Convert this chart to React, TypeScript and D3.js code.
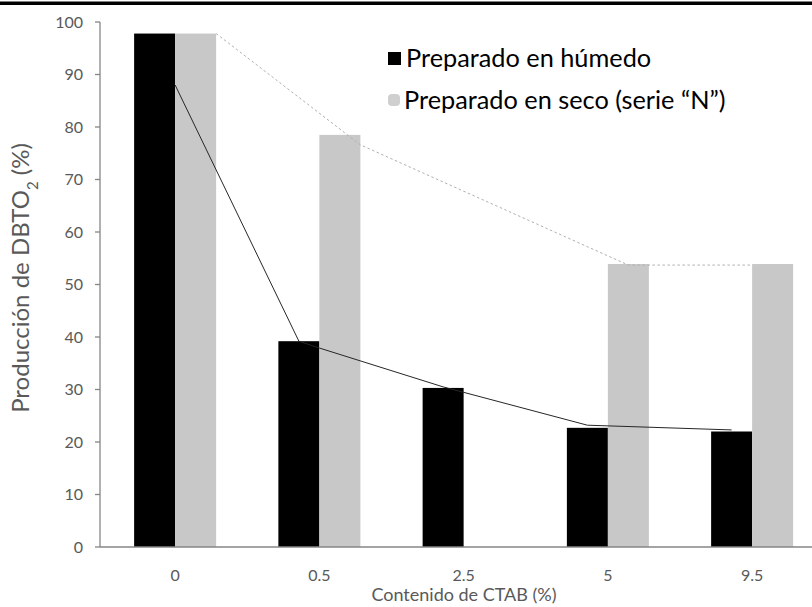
import React from 'react';
import * as d3 from 'd3';

const categories = ['0', '0.5', '2.5', '5', '9.5'];
const seriesKeys = ['wet', 'dry'];
const seriesNames = ['Preparado en húmedo', 'Preparado en seco (serie “N”)'];
const wetValues: (number | null)[] = [97.8, 39.2, 30.3, 22.7, 22.0];
const dryValues: (number | null)[] = [97.8, 78.5, null, 53.9, 53.9];
const yTicks = [0, 10, 20, 30, 40, 50, 60, 70, 80, 90, 100];

// Connecting lines drawn over the bars (category, bar anchor, value)
const wetLineCats = ['0', '0.5', '0.5', '2.5', '5', '9.5'];
const wetLineAnchors = ['wetRight', 'wetCenter', 'wetRight', 'wetCenter', 'wetCenter', 'wetCenter'];
const wetLineValues = [88.0, 39.2, 37.9, 30.5, 23.2, 22.3];
const dryLineCats = ['0', '0.5', '5', '9.5'];
const dryLineAnchors = ['dryRight', 'dryRight', 'dryCenter', 'dryLeft'];
const dryLineValues = [97.8, 76.6, 53.7, 53.7];

const W = 812;
const H = 607;
const FONT = 'Lato, "Open Sans", sans-serif';

export default function App() {
  const x0 = d3.scaleBand<string>().domain(categories).range([103, 824.25]).paddingInner(0).paddingOuter(0);
  const step = x0.bandwidth();
  const x1 = d3.scaleBand<string>().domain(seriesKeys).range([step / 2 - 41, step / 2 + 41]).padding(0);
  const y = d3.scaleLinear().domain([0, 100]).range([547, 22]);
  const bw = x1.bandwidth();

  const anchorX = (cat: string, anchor: string) => {
    const base = x0(cat)!;
    switch (anchor) {
      case 'wetRight': return base + x1('wet')! + bw;
      case 'wetCenter': return base + x1('wet')! + bw / 2;
      case 'dryRight': return base + x1('dry')! + bw;
      case 'dryCenter': return base + x1('dry')! + bw / 2;
      case 'dryLeft': return base + x1('dry')!;
      default: return base + step / 2;
    }
  };

  const line = d3.line<[number, number]>().x(d => d[0]).y(d => d[1]);
  const wetPts: [number, number][] = wetLineCats.map((c, i) => [anchorX(c, wetLineAnchors[i]), y(wetLineValues[i])]);
  const dryPts: [number, number][] = dryLineCats.map((c, i) => [anchorX(c, dryLineAnchors[i]), y(dryLineValues[i])]);

  const series = [
    { key: 'wet', values: wetValues, color: '#000000' },
    { key: 'dry', values: dryValues, color: '#c8c8c8' },
  ];

  return (
    <svg width={W} height={H} style={{ position: 'absolute', left: 0, top: 0, background: '#fff' }} fontFamily={FONT}>
      <rect x={0} y={0} width={W} height={H} fill="#fff" />
      <rect x={0} y={1.5} width={W} height={3.5} fill="#000" />

      {/* bars */}
      {series.map(s => (
        <g key={s.key}>
          {categories.map((c, i) => {
            const v = s.values[i];
            if (v == null) return null;
            return (
              <rect key={c} x={x0(c)! + x1(s.key)!} y={y(v)} width={bw} height={y(0) - y(v)} fill={s.color} />
            );
          })}
        </g>
      ))}

      {/* connecting lines */}
      <path d={line(dryPts)!} fill="none" stroke="#b0b0b0" strokeWidth={1} strokeDasharray="2.5,2.5" />
      <path d={line(wetPts)!} fill="none" stroke="#262626" strokeWidth={1} />

      {/* y axis */}
      <line x1={100} x2={100} y1={y(100)} y2={y(0)} stroke="#868686" strokeWidth={1.3} />
      {yTicks.map(t => (
        <g key={t}>
          <line x1={95} x2={100} y1={y(t)} y2={y(t)} stroke="#868686" strokeWidth={1.3} />
          <text x={83} y={y(t)} dy="0.35em" textAnchor="end" fontSize={16} fill="#595959">{t}</text>
        </g>
      ))}
      {/* x axis */}
      <line x1={100} x2={W} y1={y(0)} y2={y(0)} stroke="#868686" strokeWidth={1.3} />
      {categories.map(c => (
        <text key={c} x={x0(c)! + step / 2} y={575} dy="0.35em" textAnchor="middle" fontSize={16} fill="#595959">{c}</text>
      ))}

      {/* axis titles */}
      <text x={464} y={595} dy="0.35em" textAnchor="middle" fontSize={18} fill="#595959">Contenido de CTAB (%)</text>
      <text transform="translate(21,278) rotate(-90)" dy="0.35em" textAnchor="middle" fontSize={24} fill="#595959">
        Producción de DBTO<tspan baselineShift="sub" fontSize={15}>2</tspan> (%)
      </text>

      {/* legend */}
      <rect x={388} y={52} width={13} height={13} fill="#000" />
      <text x={406} y={58} dy="0.35em" fontSize={25.3} fill="#000">{seriesNames[0]}</text>
      <rect x={388} y={94} width={12} height={12} rx={4} fill="#cfcfcf" />
      <text x={404} y={100} dy="0.35em" fontSize={25.3} fill="#000">{seriesNames[1]}</text>
    </svg>
  );
}
